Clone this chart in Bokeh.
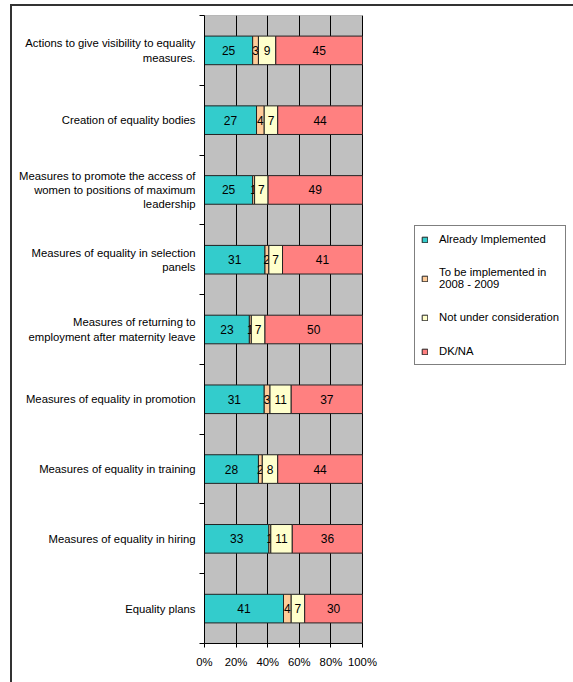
from bokeh.plotting import figure
from bokeh.models import (Range1d, FixedTicker, NumeralTickFormatter, Legend, LegendItem,
                          ColumnDataSource, InlineStyleSheet)
from bokeh.core.properties import value
from bokeh.embed import file_html
from bokeh.resources import INLINE

# ---------------- data ----------------
categories = [
    "Actions to give visibility to equality\nmeasures.",
    "Creation of equality bodies",
    "Measures to promote the access of\nwomen to positions of maximum\nleadership",
    "Measures of equality in selection\npanels",
    "Measures of returning to\nemployment after maternity leave",
    "Measures of equality in promotion",
    "Measures of equality in training",
    "Measures of equality in hiring",
    "Equality plans",
]
series_names = ["Already Implemented", "To be implemented in\n2008 - 2009",
                "Not under consideration", "DK/NA"]
already = [25, 27, 25, 31, 23, 31, 28, 33, 41]
to_be = [3, 4, 1, 2, 1, 3, 2, 1, 4]
not_under = [9, 7, 7, 7, 7, 11, 8, 11, 7]
dkna = [45, 44, 49, 41, 50, 37, 44, 36, 30]
x_ticks = [0, 0.2, 0.4, 0.6, 0.8, 1.0]

# ---------------- style / layout ----------------
colors = ["#33CCCC", "#FFCC99", "#FFFFCC", "#FF8080"]
FONT = "Liberation Sans"
FS = "11.3px"
FS_DATA = "12px"
W, H = 573, 682
PLOT_LEFT, PLOT_RIGHT = 204, 362      # pixel extent of the 0%..100% area
TOP, BOTTOM = 15, 39

series = [already, to_be, not_under, dkna]
n = len(categories)
y_pos = [n - 1 - i + 0.5 for i in range(n)]
boundaries = [float(i) for i in range(n + 1)]
totals = [sum(s[i] for s in series) for i in range(n)]

# the frame spans to the right edge so the legend can live inside it;
# the 0..1 (0%..100%) span maps to PLOT_LEFT..PLOT_RIGHT
x_end = (W - PLOT_LEFT) / (PLOT_RIGHT - PLOT_LEFT)

p = figure(width=W, height=H, output_backend="svg", toolbar_location=None,
           x_range=Range1d(0, x_end), y_range=Range1d(0, n),
           min_border_left=PLOT_LEFT, min_border_right=0,
           min_border_top=TOP, min_border_bottom=BOTTOM)

p.background_fill_color = "white"
p.border_fill_color = "white"
p.outline_line_color = None

# outer frame of the whole chart (top and left edges visible in the window)
p.stylesheets = [InlineStyleSheet(css="""
:host { position: relative; }
:host::after {
  content: ''; position: absolute; left: 10px; top: 4px; right: 0; bottom: 0;
  border-top: 2px solid #333333; border-left: 2px solid #333333;
  pointer-events: none; box-sizing: border-box;
}
""")]

# grey plot area (0%..100%, all categories)
p.quad(left=[x_ticks[0]], right=[x_ticks[-1]], bottom=[boundaries[0]], top=[boundaries[-1]],
       fill_color="#C0C0C0", line_color="#808080", line_width=1, level="image")

# grid
p.xgrid.ticker = FixedTicker(ticks=x_ticks)
p.xgrid.grid_line_color = "black"
p.xgrid.grid_line_width = 1
p.xgrid.bounds = (boundaries[0], boundaries[-1])
p.ygrid.grid_line_color = None

# x axis
xa = p.xaxis[0]
xa.ticker = FixedTicker(ticks=x_ticks)
xa.formatter = NumeralTickFormatter(format="0%")
xa.bounds = (x_ticks[0], x_ticks[-1])
xa.major_tick_out = 4
xa.major_tick_in = 0
xa.minor_tick_line_color = None
xa.axis_line_color = "black"
xa.major_tick_line_color = "black"
xa.major_label_text_font = FONT
xa.major_label_text_font_size = FS
xa.major_label_text_color = "black"
xa.major_label_standoff = 8

# y axis: labels at centers, ticks at category boundaries
ya = p.yaxis[0]
ya.ticker = FixedTicker(ticks=y_pos, minor_ticks=boundaries)
ya.major_label_overrides = {y: c for y, c in zip(y_pos, categories)}
ya.major_tick_line_color = None
ya.major_tick_out = 0
ya.major_tick_in = 0
ya.minor_tick_out = 5
ya.minor_tick_in = 0
ya.minor_tick_line_color = "black"
ya.axis_line_color = "black"
ya.major_label_text_font = FONT
ya.major_label_text_font_size = FS
ya.major_label_text_color = "black"
ya.major_label_standoff = 4

# stacked bars (normalized to 100%)
renderers = []
left = [0.0] * n
for k, s in enumerate(series):
    frac = [s[i] / totals[i] for i in range(n)]
    right = [left[i] + frac[i] for i in range(n)]
    src = ColumnDataSource(dict(y=y_pos, left=list(left), right=right,
                                xc=[(left[i] + right[i]) / 2 for i in range(n)],
                                lab=[str(v) for v in s]))
    r = p.hbar(y="y", left="left", right="right", height=0.41, source=src,
               fill_color=colors[k], line_color="#222222", line_width=1)
    p.text(x="xc", y="y", text="lab", source=src, text_align="center",
           text_baseline="middle", text_font=value(FONT), text_font_size=FS_DATA,
           text_color="black")
    renderers.append(r)
    left = right

legend = Legend(items=[LegendItem(label=series_names[k], renderers=[renderers[k]])
                       for k in range(4)],
                location=(210, 278), orientation="vertical")
legend.border_line_color = "black"
legend.border_line_width = 1
legend.background_fill_color = "white"
legend.background_fill_alpha = 1
legend.label_text_font = FONT
legend.label_text_font_size = FS
legend.label_text_color = "black"
legend.glyph_width = 7
legend.glyph_height = 7
legend.label_standoff = 11
legend.label_height = 14
legend.label_width = 113
legend.spacing = 20
legend.padding = 6
legend.margin = 0
p.add_layout(legend, "center")

open("out.html", "w").write(file_html(p, INLINE))
